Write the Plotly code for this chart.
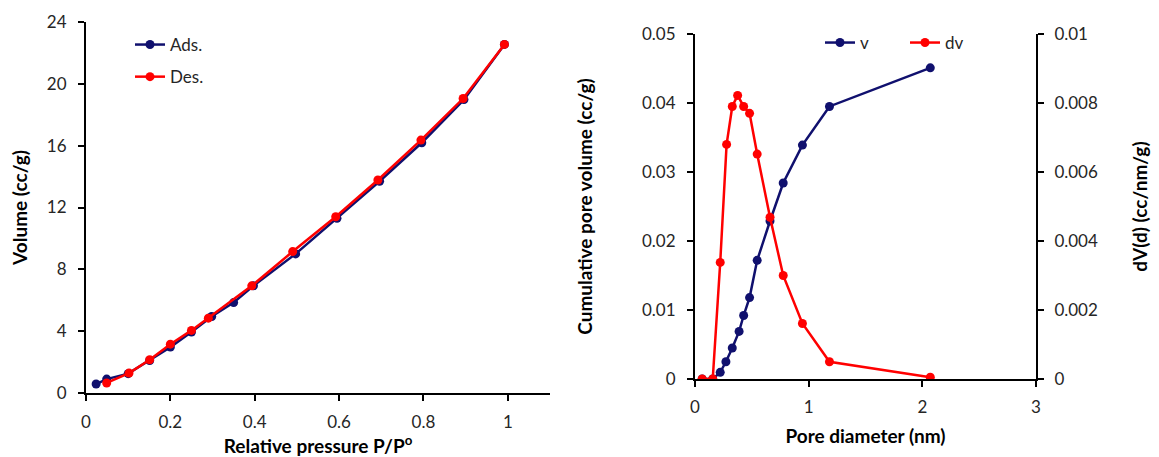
import plotly.graph_objects as go

# ---- Left panel: N2 isotherm ----
ads_p = [0.024, 0.049, 0.10, 0.151, 0.20, 0.25, 0.298, 0.35, 0.397, 0.497, 0.595, 0.696, 0.796, 0.896, 0.992]
ads_v = [0.58, 0.90, 1.25, 2.10, 2.97, 3.94, 4.95, 5.85, 6.93, 9.00, 11.30, 13.70, 16.19, 18.98, 22.55]
des_p = [0.049, 0.102, 0.151, 0.20, 0.25, 0.29, 0.393, 0.49, 0.592, 0.692, 0.794, 0.894, 0.992]
des_v = [0.65, 1.29, 2.15, 3.16, 4.05, 4.84, 6.93, 9.15, 11.40, 13.78, 16.36, 19.05, 22.55]

# ---- Right panel: pore size distribution ----
pore_d = [0.063, 0.156, 0.222, 0.272, 0.328, 0.388, 0.428, 0.48, 0.547, 0.66, 0.776, 0.945, 1.183, 2.07]
cum_v = [0.0, 0.0, 0.00097, 0.0025, 0.0045, 0.0069, 0.0092, 0.0118, 0.0172, 0.0229, 0.0284, 0.0339, 0.0395, 0.0451]
dv_d = [0.063, 0.156, 0.222, 0.278, 0.328, 0.375, 0.428, 0.48, 0.547, 0.66, 0.776, 0.945, 1.183, 2.07]
dv = [0.0, 0.0, 0.00338, 0.00680, 0.00790, 0.00822, 0.00790, 0.00770, 0.00652, 0.00469, 0.00300, 0.00161, 0.00050, 0.00005]

NAVY = "#10106e"
RED = "#ff0000"
FONT = "Lato"
TICKC = "#262626"
OFF = 8  # page body margin
W, H = 1159 - 2 * OFF, 457 - OFF


def px_x(p):
    return (p - OFF) / W


def px_y(p):
    return 1 - (p - OFF) / H


fig = go.Figure()

fig.add_trace(go.Scatter(x=ads_p, y=ads_v, name="Ads.", mode="lines+markers",
                         line=dict(color=NAVY, width=2.5), marker=dict(color=NAVY, size=9),
                         xaxis="x", yaxis="y", legend="legend", legendgroup="a"))
fig.add_trace(go.Scatter(x=des_p, y=des_v, name="Des.", mode="lines+markers",
                         line=dict(color=RED, width=2.5), marker=dict(color=RED, size=9),
                         xaxis="x", yaxis="y", legend="legend", legendgroup="b"))

fig.add_trace(go.Scatter(x=pore_d, y=cum_v, name="v", mode="lines+markers",
                         line=dict(color=NAVY, width=2.5), marker=dict(color=NAVY, size=9),
                         xaxis="x2", yaxis="y2", legend="legend2"))
fig.add_trace(go.Scatter(x=dv_d, y=dv, name="dv", mode="lines+markers",
                         line=dict(color=RED, width=2.5), marker=dict(color=RED, size=9),
                         xaxis="x2", yaxis="y3", legend="legend2"))

axis_common = dict(showgrid=False, zeroline=False, showline=True, linecolor="black", linewidth=2,
                   ticks="outside", ticklen=6, tickwidth=2, tickcolor="black", automargin=False,
                   tickfont=dict(family=FONT, size=17, color=TICKC))
title_font = dict(family=FONT, size=19, color="black", weight="bold")

fig.update_layout(
    width=W, height=H,
    margin=dict(l=0, r=0, t=0, b=0, autoexpand=False),
    paper_bgcolor="white", plot_bgcolor="white",
    font=dict(family=FONT, size=16, color="black"),
    xaxis=dict(domain=[px_x(86), px_x(550)], range=[0, 1.1], tickvals=[0, 0.2, 0.4, 0.6, 0.8, 1],
               ticktext=["0", "0.2", "0.4", "0.6", "0.8", "1"], anchor="y", ticklabelstandoff=7,
               title=dict(text="Relative pressure P/P<sup>o</sup>", font=title_font, standoff=22),
               **axis_common),
    yaxis=dict(domain=[px_y(393), px_y(22)], range=[0, 24], dtick=4, anchor="x", ticklabelstandoff=8,
               title=dict(text="Volume (cc/g)", font=title_font, standoff=16),
               **axis_common),
    xaxis2=dict(domain=[px_x(695), px_x(1036)], range=[0, 3], dtick=1, anchor="y2", ticklabelstandoff=6,
                title=dict(text="Pore diameter (nm)", font=title_font, standoff=13),
                **axis_common),
    yaxis2=dict(domain=[px_y(379), px_y(34)], range=[0, 0.05], dtick=0.01, anchor="x2", ticklabelstandoff=8,
                title=dict(text="Cumulative pore volume (cc/g)", font=title_font, standoff=44),
                **axis_common),
    yaxis3=dict(range=[0, 0.01], dtick=0.002, overlaying="y2", side="right", anchor="x2", ticklabelstandoff=7,
                title=dict(text="dV(d) (cc/nm/g)", font=title_font, standoff=37),
                tickformat="~g",
                **axis_common),
    legend=dict(x=px_x(130), y=px_y(27), xanchor="left", yanchor="top",
                bgcolor="rgba(0,0,0,0)", font=dict(family=FONT, size=17, color=TICKC),
                tracegroupgap=7, traceorder="grouped"),
    legend2=dict(x=px_x(820), y=px_y(25), xanchor="left", yanchor="top", orientation="h",
                 entrywidth=40, entrywidthmode="pixels",
                 bgcolor="rgba(0,0,0,0)", font=dict(family=FONT, size=17, color=TICKC)),
    showlegend=True,
)

fig.write_html("out.html")
